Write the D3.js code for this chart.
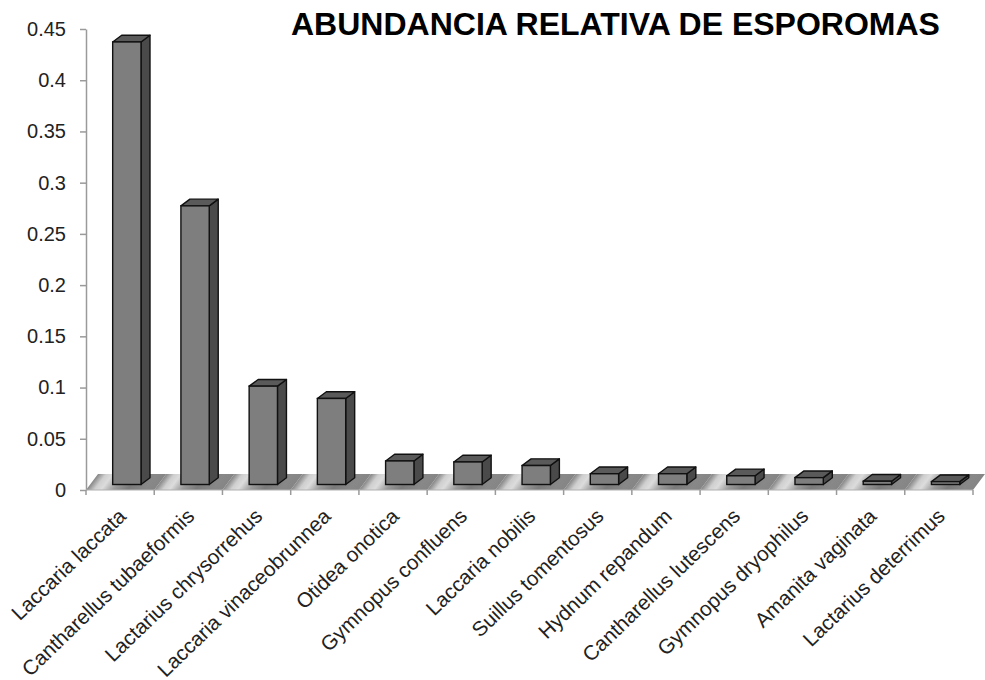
<!DOCTYPE html>
<html>
<head>
<meta charset="utf-8">
<script src="https://cdn.jsdelivr.net/npm/d3@7"></script>
<style>
  html, body { margin: 0; padding: 0; background: #fff; }
  svg { display: block; font-family: "Liberation Sans", Arial, Helvetica, sans-serif; }
</style>
</head>
<body>
<svg id="chart" width="985" height="680"></svg>
<script>
const title = "ABUNDANCIA RELATIVA DE ESPOROMAS";
const categories = [
  "Laccaria laccata",
  "Cantharellus tubaeformis",
  "Lactarius chrysorrehus",
  "Laccaria vinaceobrunnea",
  "Otidea onotica",
  "Gymnopus confluens",
  "Laccaria nobilis",
  "Suillus tomentosus",
  "Hydnum repandum",
  "Cantharellus lutescens",
  "Gymnopus dryophilus",
  "Amanita vaginata",
  "Lactarius deterrimus"
];
const values = [0.432, 0.272, 0.096, 0.084, 0.023, 0.022, 0.0185, 0.0105, 0.0105, 0.0085, 0.0067, 0.0032, 0.0028];
const yTicks = [0, 0.05, 0.1, 0.15, 0.2, 0.25, 0.3, 0.35, 0.4, 0.45];

const svg = d3.select("#chart");
const x = d3.scaleBand().domain(categories).range([86, 973]).padding(0);
const y = d3.scaleLinear().domain([0, 0.45]).range([490, 29]);
const step = x.step();

// 3D geometry
const floorDx = 12, floorDy = -16;
const barDx = 9, barDy = -6.7, lift = 5.5;
const barOff = step * 0.391, barW = step * 0.415;

const defs = svg.append("defs");
// floor gradient per band (slanted stripes)
categories.forEach((c, i) => {
  const x0 = x(c), y0 = y(0);
  const t = step / 1.5625;
  const g = defs.append("linearGradient")
    .attr("id", "fl" + i)
    .attr("gradientUnits", "userSpaceOnUse")
    .attr("x1", x0).attr("y1", y0)
    .attr("x2", x0 + t).attr("y2", y0 + 0.75 * t);
  [[0, "#858585"], [0.12, "#cfcfcf"], [0.22, "#dcdcdc"], [0.4, "#999999"], [0.6, "#7a7a7a"], [0.85, "#888888"], [1, "#858585"]]
    .forEach(s => g.append("stop").attr("offset", s[0]).attr("stop-color", s[1]));
});

// floor
svg.append("g").selectAll("polygon").data(categories).join("polygon")
  .attr("points", (c) => {
    const x0 = x(c), x1 = x(c) + step, yb = y(0);
    return [[x0, yb], [x1, yb], [x1 + floorDx, yb + floorDy], [x0 + floorDx, yb + floorDy]].map(p => p.join(",")).join(" ");
  })
  .attr("fill", (c, i) => `url(#fl${i})`)
  .attr("stroke", "none");

// y axis
const yAxis = d3.axisLeft(y).tickValues(yTicks).tickFormat(d3.format("~r")).tickSize(6).tickSizeOuter(0).tickPadding(14);
const gy = svg.append("g").attr("transform", "translate(86,0)").call(yAxis);
gy.select(".domain").attr("stroke", "#9a9a9a").attr("stroke-width", 1.5);
gy.selectAll(".tick line").attr("stroke", "#9a9a9a").attr("stroke-width", 1.5);
gy.selectAll(".tick text").attr("fill", "#222").style("font-size", "20px").style("font-family", '"Liberation Sans", Arial, sans-serif');

// x axis line and ticks at band boundaries
const bounds = categories.map(c => x(c)).concat([x.range()[1]]);
svg.append("line").attr("x1", 86).attr("x2", 973).attr("y1", y(0)).attr("y2", y(0))
  .attr("stroke", "#b0b0b0").attr("stroke-width", 1);
svg.append("g").selectAll("line").data(bounds).join("line")
  .attr("x1", d => d).attr("x2", d => d)
  .attr("y1", y(0)).attr("y2", y(0) + 5)
  .attr("stroke", "#9a9a9a").attr("stroke-width", 1.5);

// bars
const bars = svg.append("g").selectAll("g").data(categories.map((c, i) => ({ c, v: values[i] }))).join("g");
bars.each(function (d) {
  const g = d3.select(this);
  const bx = x(d.c) + barOff;
  const yt = y(d.v) - lift, yb = y(0) - lift;
  const pts = a => a.map(p => p.join(",")).join(" ");
  g.append("polygon")
    .attr("points", pts([[bx + barW, yt], [bx + barW + barDx, yt + barDy], [bx + barW + barDx, yb + barDy], [bx + barW, yb]]))
    .attr("fill", "#4a4a4a").attr("stroke", "#111").attr("stroke-width", 1.4).attr("stroke-linejoin", "round");
  g.append("polygon")
    .attr("points", pts([[bx, yt], [bx + barDx, yt + barDy], [bx + barW + barDx, yt + barDy], [bx + barW, yt]]))
    .attr("fill", "#5a5a5a").attr("stroke", "#111").attr("stroke-width", 1.4).attr("stroke-linejoin", "round");
  g.append("rect")
    .attr("x", bx).attr("y", yt).attr("width", barW).attr("height", yb - yt)
    .attr("fill", "#7e7e7e").attr("stroke", "#111").attr("stroke-width", 1.4);
});

// category labels
svg.append("g").selectAll("text").data(categories).join("text")
  .attr("transform", c => `translate(${x(c) + step / 2 - 5},505) rotate(-44)`)
  .attr("text-anchor", "end")
  .attr("dy", "0.85em")
  .attr("fill", "#222")
  .style("font-size", "20.7px")
  .text(c => c);

// title
svg.append("text")
  .attr("x", 291).attr("y", 34.5)
  .attr("fill", "#000")
  .style("font-size", "32px")
  .style("font-weight", "bold")
  .text(title);
</script>
</body>
</html>
